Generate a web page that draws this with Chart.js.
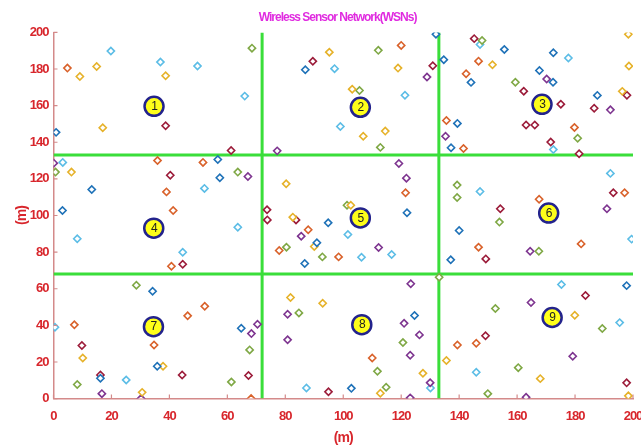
<!DOCTYPE html>
<html>
<head>
<meta charset="utf-8">
<title>Wireless Sensor Network(WSNs)</title>
<script src="https://cdn.jsdelivr.net/npm/chart.js@4.4.0/dist/chart.umd.min.js"></script>
<style>
    html, body { margin: 0; padding: 0; background: #fff; }
</style>
</head>
<body>
<canvas id="wsnChart" width="641" height="445"></canvas>
<script>
// Sensor node positions (m), grouped by marker colour
const blueNodes = [[0.9,145.4],[86.9,179.6],[132,199],[134.7,185.1],[155.6,190.7],[144.1,172.7],[167.7,179.2],[172.4,172.8],[172.5,188.9],[187.7,165.6],[139.4,150.3],[137.2,137],[13.2,114.2],[3.1,102.7],[56.7,130.6],[57.4,120.6],[94.8,96],[90.9,85.1],[86.7,73.8],[122,101.5],[140,91.8],[137.1,75.8],[197.8,61.7],[16.2,11.1],[34.2,58.6],[35.8,17.7],[64.8,38.4],[102.8,5.6],[124.6,45.4]];
const orangeNodes = [[4.8,180.5],[120,192.9],[146.7,184.3],[142.4,177.4],[179.8,148.1],[135.6,151.9],[141.5,136.6],[35.9,130],[39,112.9],[41.3,102.7],[40.7,72.3],[51.6,129],[87.9,92.2],[77.9,80.9],[98.4,77.4],[121.5,112.4],[197.1,112.4],[182.1,84.5],[167.6,108.9],[146.7,82.7],[7.2,40.3],[34.7,29.3],[46.3,45.2],[52.2,50.4],[68.2,0],[110,22.2],[139.4,29.3],[145.9,30.2]];
const yellowNodes = [[9.1,175.9],[14.9,181.4],[17,147.9],[38.7,176.3],[95.2,189.2],[103.1,169],[106.9,143.3],[114.5,146.1],[118.9,180.5],[151.5,182.3],[196.3,167.8],[198.4,199],[198.6,181.6],[6.2,123.7],[80.3,117.3],[82.6,99.1],[90,83.1],[102.6,105.6],[10.1,22.2],[37.8,17.7],[30.6,3.4],[81.8,55.2],[92.9,52.1],[112.8,2.9],[127.5,13.8],[135.6,20.8],[179.9,45.5],[168,10.9],[198.4,1.5]];
const purpleNodes = [[128.9,175.6],[170.2,174.5],[192.2,157.7],[135.3,143.3],[77.2,135.3],[0.1,128.6],[67.1,121.3],[85.5,88.7],[112.2,82.5],[119.2,128.4],[121.8,120.4],[123.3,62.7],[191,103.7],[164.5,80.5],[16.7,2.7],[30.2,0],[68.3,35.5],[70.4,40.6],[80.8,46.1],[80.8,32.1],[121,41.1],[126.3,34.8],[123.1,23.7],[123.1,0.4],[130,8.7],[163.1,0.7],[164.8,52.5],[179.2,23.1]];
const greenNodes = [[68.5,191.4],[105.6,168.3],[112.8,137.2],[112.1,190.2],[147.9,195.6],[159.4,172.8],[180.9,142.2],[0.7,123.7],[63.6,123.7],[80.4,82.7],[92.8,77.4],[101.3,105.6],[153.9,96.4],[139.3,116.6],[139.3,109.8],[167.5,80.5],[133.1,66.3],[8.2,7.7],[28.6,61.9],[67.7,26.6],[61.4,9.1],[84.7,46.8],[111.8,14.9],[114.8,6.2],[120.6,30.6],[152.5,49.2],[149.9,2.7],[160.4,16.9],[189.4,38.3]];
const lightBlueNodes = [[19.8,189.8],[36.9,183.8],[49.7,181.6],[66,165.2],[97,180.2],[99,148.6],[121.3,165.7],[147.2,193.4],[177.7,186],[172.5,136],[3.2,129],[8.2,87.3],[44.6,79.9],[52.1,114.8],[63.6,93.6],[101.6,89.6],[106.3,77.2],[116.7,78.7],[192.2,123],[199.5,87.1],[147.2,113.1],[175.3,62.3],[0.5,39],[25.1,10.2],[87.3,5.8],[130.1,5.8],[145.9,14.4],[195.4,41.5]];
const darkRedNodes = [[38.7,149],[61.3,135.5],[89.5,184.2],[145.2,196.6],[130.9,181.8],[162.3,167.9],[175.1,160.8],[163.1,149.4],[166.1,149.4],[171.6,140.1],[181.4,133.7],[186.6,158.6],[197.9,165.7],[40.3,122],[44.6,73.4],[73.7,103.1],[73.8,97.6],[83.7,97.6],[193.2,112.4],[154.2,103.7],[149.2,76.3],[9.8,29],[16.2,12.9],[44.4,12.9],[67.3,12.6],[94.9,3.7],[149.1,34.3],[183.6,56.3],[197.8,8.6]];

// Cluster heads (numbered circles)
const clusterLabels = ['1', '2', '3', '4', '5', '6', '7', '8', '9'];
const clusterHeads = [[34.7,159.6],[105.9,159.1],[168.6,160.7],[34.6,93.1],[105.9,98.7],[170.9,101.3],[34.5,39.3],[106.4,40.4],[172.1,44.3]];

// Cluster boundaries
const splitX = [72, 133];
const splitY = [68, 133];

const axisTicks = [0, 20, 40, 60, 80, 100, 120, 140, 160, 180, 200];

const FAMILY = "'Liberation Sans', Arial, sans-serif";
const RED = '#d8262c';
const AXIS_LINE = '#d48a8a';

const toPoints = (pairs) => pairs.map(p => ({ x: p[0], y: p[1] }));

function nodeSet(pairs, color) {
    return {
        data: toPoints(pairs),
        pointStyle: 'rectRot',
        pointRadius: 3.6,
        borderWidth: 1.6,
        borderColor: color,
        backgroundColor: '#ffffff',
        order: 2
    };
}

function splitLine(points) {
    return {
        type: 'line',
        data: toPoints(points),
        showLine: true,
        borderColor: '#3ade3a',
        borderWidth: 3,
        pointRadius: 0,
        fill: false,
        order: 5
    };
}

const lineSets = [];
splitX.forEach(x => lineSets.push(splitLine([[x, 0], [x, 200]])));
splitY.forEach(y => lineSets.push(splitLine([[0, y], [200, y]])));

// The original uses a narrow face; tighten the letters instead
const narrowText = {
    id: 'narrowText',
    beforeLayout(chart) { chart.ctx.letterSpacing = '-1px'; },
    beforeDraw(chart) { chart.ctx.letterSpacing = '-1px'; }
};

// Let the plot run almost to the right edge, like the original
const fitRightEdge = {
    id: 'fitRightEdge',
    afterLayout(chart) {
        const right = chart.width - 8;
        const area = chart.chartArea;
        area.right = right;
        area.width = right - area.left;
        const xs = chart.scales.x;
        xs.right = right;
        xs.width = right - xs.left;
        xs.configure();
    }
};

// Numbers inside the cluster-head circles
const clusterNumbers = {
    id: 'clusterNumbers',
    afterDatasetsDraw(chart) {
        const meta = chart.getDatasetMeta(chart.data.datasets.length - 1);
        const ctx = chart.ctx;
        ctx.save();
        ctx.fillStyle = '#222222';
        ctx.font = '12px ' + FAMILY;
        ctx.textAlign = 'center';
        ctx.textBaseline = 'middle';
        meta.data.forEach((pt, i) => {
            ctx.fillText(clusterLabels[i], pt.x, pt.y + 0.5);
        });
        ctx.restore();
    }
};

// Short tick marks pointing into the plot
const innerTicks = {
    id: 'innerTicks',
    afterDraw(chart) {
        const { ctx, chartArea, scales } = chart;
        ctx.save();
        ctx.strokeStyle = AXIS_LINE;
        ctx.lineWidth = 1.2;
        ctx.beginPath();
        axisTicks.forEach(v => {
            const px = scales.x.getPixelForValue(v);
            ctx.moveTo(px, chartArea.bottom);
            ctx.lineTo(px, chartArea.bottom - 4);
            const py = scales.y.getPixelForValue(v);
            ctx.moveTo(chartArea.left, py);
            ctx.lineTo(chartArea.left + 4, py);
        });
        ctx.stroke();
        ctx.restore();
    }
};

function axisOptions(tickPadding, titlePadding) {
    return {
        min: 0,
        max: 200,
        afterBuildTicks: (scale) => {
            scale.ticks = axisTicks.map(v => ({ value: v }));
        },
        grid: { drawOnChartArea: false, drawTicks: false },
        border: { color: AXIS_LINE, width: 1.5 },
        ticks: {
            color: RED,
            padding: tickPadding,
            maxRotation: 0,
            font: { family: FAMILY, size: 13, weight: 'bold' }
        },
        title: {
            display: true,
            text: '(m)',
            color: RED,
            padding: titlePadding,
            font: { family: FAMILY, size: 14, weight: 'bold' }
        }
    };
}

const ctx = document.getElementById('wsnChart').getContext('2d');
new Chart(ctx, {
    type: 'scatter',
    data: {
        datasets: [
            ...lineSets,
            nodeSet(blueNodes, '#1f72b8'),
            nodeSet(orangeNodes, '#d9622b'),
            nodeSet(yellowNodes, '#e6b22a'),
            nodeSet(purpleNodes, '#7e3590'),
            nodeSet(greenNodes, '#7fa845'),
            nodeSet(lightBlueNodes, '#5cbde6'),
            nodeSet(darkRedNodes, '#9c1c3a'),
            {
                data: toPoints(clusterHeads),
                pointStyle: 'circle',
                pointRadius: 9.5,
                borderWidth: 2.5,
                borderColor: '#23238c',
                backgroundColor: '#ffff1a',
                order: 0
            }
        ]
    },
    options: {
        responsive: false,
        animation: false,
        layout: { padding: { left: 8, right: 0, top: 4, bottom: 0 } },
        scales: {
            x: axisOptions(10, { top: -4, bottom: -2 }),
            y: axisOptions(5, { top: 6, bottom: -6 })
        },
        plugins: {
            legend: { display: false },
            tooltip: { enabled: false },
            title: {
                display: true,
                fullSize: false,
                text: 'Wireless Sensor Network(WSNs)',
                color: '#e02be0',
                padding: { top: 6, bottom: 8 },
                font: { family: FAMILY, size: 12, weight: 'bold' }
            }
        }
    },
    plugins: [narrowText, fitRightEdge, clusterNumbers, innerTicks]
});
</script>
</body>
</html>
